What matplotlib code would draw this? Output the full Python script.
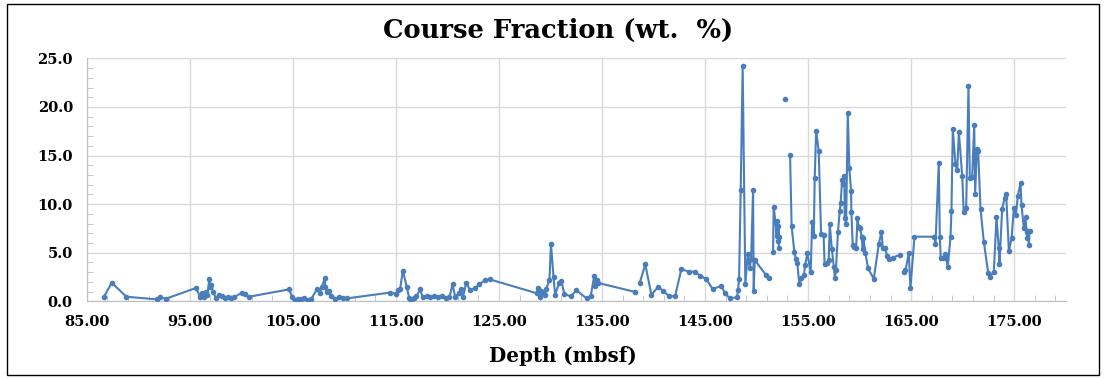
import matplotlib
matplotlib.use("Agg")
import matplotlib.pyplot as plt
from matplotlib.patches import Rectangle
from matplotlib.ticker import MultipleLocator, FormatStrFormatter

# depth (mbsf) / coarse fraction (wt. %) - blank rows in the sheet split the line into segments
depth_a = [86.68, 87.43, 88.85, 91.8, 92.1, 92.7, 95.6, 96.0, 96.2, 96.35,
           96.55, 96.7, 96.9, 97.0, 97.1, 97.25, 97.55, 97.85, 98.1, 98.45,
           98.7, 99.0, 99.3, 100.05, 100.35, 100.75, 104.65, 104.95, 105.2, 105.5,
           105.8, 106.1, 106.5, 106.8, 107.33, 107.6, 107.8, 108.1, 108.15, 108.3,
           108.5, 108.7, 109.1, 109.5, 109.85, 110.25, 114.45, 115.03, 115.25, 115.4,
           115.68, 116.05, 116.3, 116.5, 116.75, 117.0, 117.36, 117.6, 118.0, 118.3,
           118.7, 119.1, 119.5, 119.9, 120.2, 120.5, 120.75, 121.17, 121.3, 121.5,
           121.83, 122.2, 122.7, 123.1, 123.67, 124.1, 128.7, 128.75, 128.95, 129.1,
           129.3, 129.5, 129.6, 129.9, 130.05, 130.3, 130.45, 130.85, 131.05, 131.35,
           132.0, 132.5, 133.5, 133.9, 134.25, 134.35, 134.5, 134.6, 138.23]
frac_a = [0.47, 1.91, 0.47, 0.2, 0.41, 0.27, 1.37, 0.47, 0.9, 0.47,
          1.0, 0.6, 2.3, 1.5, 1.7, 1.0, 0.3, 0.7, 0.55, 0.35,
          0.45, 0.3, 0.4, 0.9, 0.75, 0.47, 1.23, 0.4, 0.1, 0.25,
          0.2, 0.3, 0.15, 0.25, 1.23, 0.9, 1.45, 2.36, 1.5, 1.0,
          1.1, 0.55, 0.2, 0.4, 0.3, 0.3, 0.9, 0.75, 1.2, 1.25,
          3.15, 1.5, 0.3, 0.1, 0.3, 0.55, 1.23, 0.4, 0.55, 0.4,
          0.55, 0.47, 0.55, 0.35, 0.4, 1.75, 0.47, 0.85, 1.23, 0.4,
          1.91, 1.15, 1.37, 1.75, 2.2, 2.26, 0.82, 1.35, 0.47, 1.05,
          0.9, 0.7, 1.3, 2.2, 5.9, 2.47, 0.7, 1.9, 2.13, 0.75,
          0.5, 1.16, 0.3, 0.5, 2.64, 1.6, 2.2, 1.9, 0.96]

depth_b = [138.65, 139.2, 139.8, 140.45, 140.9, 141.55, 142.1, 142.7, 143.41, 143.99,
           144.54, 145.13, 145.74, 146.55, 146.97, 147.4, 148.1, 148.2, 148.3, 148.46,
           148.65, 148.91, 149.14, 149.33, 149.47, 149.66, 149.72, 149.82, 150.92, 151.18]
frac_b = [1.85, 3.8, 0.65, 1.5, 1.1, 0.5, 0.55, 3.32, 3.05, 3.05,
          2.64, 2.26, 1.27, 1.57, 0.82, 0.3, 0.41, 1.16, 2.3, 11.47,
          24.24, 1.75, 4.83, 3.4, 4.35, 11.45, 1.06, 4.25, 2.7, 2.43]

depth_c = [151.6, 151.66, 151.83, 151.95, 152.0, 152.08, 152.12, 152.18, 152.15]
frac_c = [5.04, 9.73, 8.2, 6.7, 8.25, 6.2, 7.8, 6.6, 5.5]

depth_d = [152.73]
frac_d = [20.8]

depth_e = [153.25, 153.4, 153.67, 153.8, 153.95, 154.15, 154.35, 154.6, 154.7, 154.93,
           155.25, 155.39, 155.55, 155.64, 155.78, 156.03, 156.26, 156.5, 156.6, 156.85,
           157.0, 157.1, 157.3, 157.5, 157.6, 157.7, 157.9, 158.07, 158.16, 158.3,
           158.4, 158.52, 158.55, 158.69, 158.85, 159.0, 159.17, 159.2, 159.33, 159.5,
           159.66, 159.79, 159.9, 160.05, 160.2, 160.3, 160.36, 160.56, 160.82, 161.37,
           161.86, 162.12, 162.25, 162.44, 162.67, 162.83, 163.2, 163.87]
frac_e = [15.05, 7.7, 5.04, 4.35, 3.9, 1.75, 2.4, 2.7, 3.7, 4.93,
          3.0, 8.13, 6.7, 12.65, 17.5, 15.5, 6.92, 6.8, 3.84, 3.9,
          4.25, 7.95, 5.4, 3.5, 2.43, 3.2, 7.16, 9.3, 10.15, 12.48,
          12.1, 12.93, 8.6, 7.95, 19.4, 13.68, 11.35, 9.2, 5.8, 5.6,
          5.45, 8.54, 7.65, 7.5, 6.6, 5.4, 6.55, 4.94, 3.4, 2.3,
          5.9, 7.16, 5.45, 5.5, 4.7, 4.35, 4.5, 4.76]

depth_f = [164.35, 164.45, 164.77, 164.93, 165.32, 167.26, 167.36, 167.68, 167.78, 167.87,
           168.1, 168.26, 168.4, 168.55, 168.82, 168.91, 169.04, 169.3, 169.47, 169.63,
           169.95, 170.1, 170.34, 170.56, 170.69, 170.92, 171.12, 171.21, 171.37, 171.5,
           171.73, 172.05, 172.48, 172.63, 173.02, 173.28, 173.5, 173.57, 173.83, 174.06,
           174.22, 174.48, 174.74, 174.97, 175.16, 175.35, 175.61, 175.71, 175.93, 176.1,
           176.2, 176.26, 176.36, 176.42, 176.49]
frac_f = [3.05, 3.2, 4.94, 1.34, 6.65, 6.65, 5.86, 14.26, 6.65, 4.42,
          4.42, 4.87, 4.42, 3.5, 6.65, 9.3, 17.7, 14.13, 13.5, 17.45,
          12.93, 9.2, 9.56, 22.15, 12.72, 12.82, 18.14, 11.04, 15.64, 15.5,
          9.5, 6.13, 2.88, 2.53, 3.05, 8.64, 5.45, 3.84, 9.5, 10.6,
          11.0, 5.17, 6.48, 9.63, 8.88, 10.87, 12.14, 9.9, 7.5, 8.64,
          7.1, 6.55, 7.2, 5.8, 7.26]

segments = [(depth_a, frac_a), (depth_b, frac_b), (depth_c, frac_c),
            (depth_d, frac_d), (depth_e, frac_e), (depth_f, frac_f)]

plt.rcParams['font.family'] = ['DejaVu Serif']

fig = plt.figure(figsize=(11.06, 3.79), dpi=100)
ax = fig.add_axes([0.0784, 0.205, 0.9636 - 0.0784, 0.846 - 0.205])

for d, f in segments:
    ax.plot(d, f, color='#4a7ebb', lw=1.5, marker='o', ms=3.0, zorder=3)

ax.set_xlim(85, 180)
ax.set_ylim(0, 25)
# x gridlines sit on 85, 95, ... 175; minor ticks every 2 between them
ax.xaxis.set_major_locator(MultipleLocator(10, offset=5))
ax.xaxis.set_minor_locator(MultipleLocator(2, offset=1))
ax.yaxis.set_major_locator(MultipleLocator(5))
ax.yaxis.set_minor_locator(MultipleLocator(1))
ax.xaxis.set_major_formatter(FormatStrFormatter('%.2f'))
ax.yaxis.set_major_formatter(FormatStrFormatter('%.1f'))
ax.grid(True, which='major', color='#d9d9d9', lw=1.0)
ax.set_axisbelow(True)

for s in ['top', 'right']:
    ax.spines[s].set_visible(False)
for s in ['left', 'bottom']:
    ax.spines[s].set_color('#bfbfbf')
ax.tick_params(which='major', length=0, labelsize=10.5, pad=10)
ax.tick_params(which='minor', direction='in', length=4, color='#bfbfbf')
for lab in ax.get_xticklabels() + ax.get_yticklabels():
    lab.set_fontweight('bold')

fig.text(0.505, 0.92, 'Course Fraction (wt.  %)', ha='center', va='center',
         fontsize=18.5, fontweight='bold')
fig.text(563 / 1106, 1 - 356 / 379, 'Depth (mbsf)', ha='center', va='center',
         fontsize=14.3, fontweight='bold')

# outer chart border
fig.patches.append(Rectangle((7 / 1106, 4 / 379), 1092 / 1106, 371 / 379,
                             transform=fig.transFigure, fill=False,
                             edgecolor='black', lw=1.0))

fig.savefig('out.png', dpi=100)
